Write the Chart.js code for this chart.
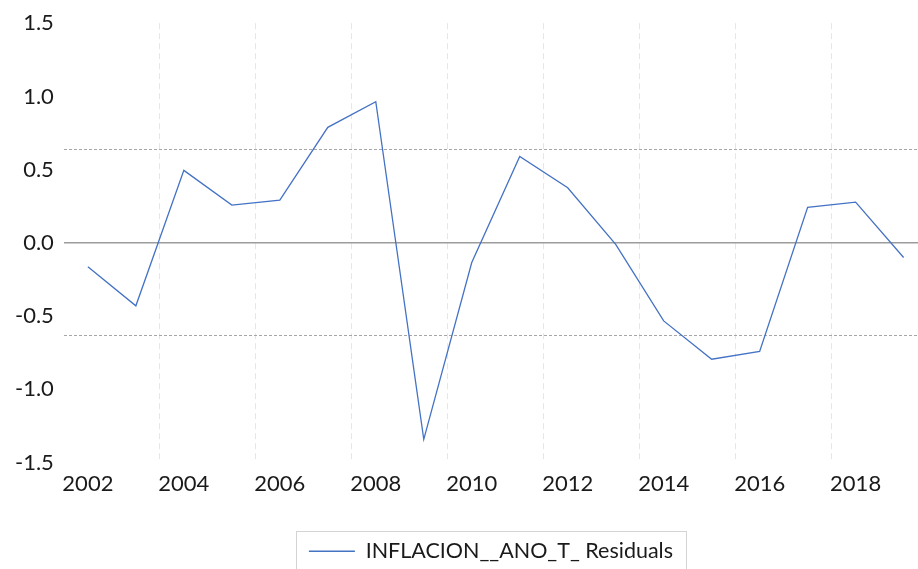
<!DOCTYPE html>
<html>
<head>
<meta charset="utf-8">
<script src="https://cdn.jsdelivr.net/npm/chart.js@4.4.0/dist/chart.umd.min.js"></script>
<style>
  html, body { margin: 0; padding: 0; background: #fff; }
  #wrap { width: 918px; height: 569px; position: relative; }
</style>
</head>
<body>
<div id="wrap"><canvas id="resid"></canvas></div>
<script>
// data
var years = [2002, 2003, 2004, 2005, 2006, 2007, 2008, 2009, 2010, 2011, 2012, 2013, 2014, 2015, 2016, 2017, 2018, 2019];
var residuals = [-0.164, -0.43, 0.495, 0.258, 0.292, 0.789, 0.964, -1.342, -0.134, 0.59, 0.376, -0.01, -0.533, -0.795, -0.742, 0.242, 0.278, -0.10];
var tickYears = [2002, 2004, 2006, 2008, 2010, 2012, 2014, 2016, 2018];
var yTicks = [-1.5, -1.0, -0.5, 0.0, 0.5, 1.0, 1.5];
var bandLevel = 0.635; // +/- banda de error estandar
var seriesName = 'INFLACION__ANO_T_ Residuals';

var fontFamily = "Lato, 'Open Sans', sans-serif";

// garis grid vertikal di tengah antara tahun
var gridYears = tickYears.slice(1).map(function(y) { return y - 0.5; });

// kotak di sekitar legend
var legendBox = {
  id: 'legendBox',
  afterDraw: function(chart) {
    var legend = chart.legend;
    if (!legend || !legend.legendHitBoxes || !legend.legendHitBoxes.length) return;
    var hb = legend.legendHitBoxes[0];
    var ctx = chart.ctx;
    ctx.save();
    ctx.strokeStyle = '#d4d4d4';
    ctx.lineWidth = 1;
    ctx.strokeRect(Math.round(hb.left - 13) + 0.5, Math.round(hb.top - 10) + 0.5, Math.round(hb.width + 26), 60);
    ctx.restore();
  }
};

var residChart = new Chart(document.getElementById('resid'), {
  type: 'line',
  data: {
    datasets: [{
      label: seriesName,
      data: years.map(function(y, i) { return { x: y, y: residuals[i] }; }),
      borderColor: '#4472c4',
      borderWidth: 1.3,
      pointRadius: 0,
      tension: 0,
      fill: false
    }]
  },
  options: {
    responsive: true,
    maintainAspectRatio: false,
    animation: false,
    layout: { padding: { left: 5, right: 0, top: 15, bottom: -3 } },
    plugins: {
      tooltip: { enabled: false },
      legend: {
        position: 'bottom',
        fullSize: false,
        labels: {
          usePointStyle: true,
          pointStyle: 'line',
          pointStyleWidth: 46,
          color: '#1a1a1a',
          padding: 22,
          font: { family: fontFamily, size: 21.5 }
        }
      }
    },
    scales: {
      x: {
        type: 'linear',
        min: 2001.5,
        max: 2019.3,
        afterBuildTicks: function(scale) {
          scale.ticks = tickYears.concat(gridYears).sort(function(a, b) { return a - b; })
            .map(function(v) { return { value: v }; });
        },
        afterFit: function(scale) {
          scale.height = 56;
        },
        ticks: {
          autoSkip: false,
          maxRotation: 0,
          padding: 8,
          color: '#1a1a1a',
          font: { family: fontFamily, size: 22 },
          callback: function(value) {
            return Number.isInteger(value) ? String(value) : '';
          }
        },
        grid: {
          drawTicks: false,
          lineWidth: 1,
          color: function(ctx) {
            var v = ctx.tick ? ctx.tick.value : null;
            return (v !== null && !Number.isInteger(v)) ? '#e6e6e6' : 'rgba(0,0,0,0)';
          }
        },
        border: { display: false, dash: [6, 4] }
      },
      y: {
        min: -1.5,
        max: 1.5,
        afterBuildTicks: function(scale) {
          scale.ticks = yTicks.map(function(v) { return { value: v }; });
        },
        ticks: {
          padding: 10,
          color: '#1a1a1a',
          font: { family: fontFamily, size: 22 },
          callback: function(value) { return Number(value).toFixed(1); }
        },
        grid: {
          drawTicks: false,
          lineWidth: 1.6,
          color: function(ctx) {
            return (ctx.tick && ctx.tick.value === 0) ? '#9c9c9c' : 'rgba(0,0,0,0)';
          }
        },
        border: { display: false }
      },
      band: {
        position: 'left',
        min: -1.5,
        max: 1.5,
        afterBuildTicks: function(scale) {
          scale.ticks = [{ value: -bandLevel }, { value: bandLevel }];
        },
        ticks: { display: false },
        grid: { drawTicks: false, color: '#a6a6a6', lineWidth: 1 },
        border: { display: false, dash: [3, 2] }
      }
    }
  },
  plugins: [legendBox]
});
</script>
</body>
</html>
